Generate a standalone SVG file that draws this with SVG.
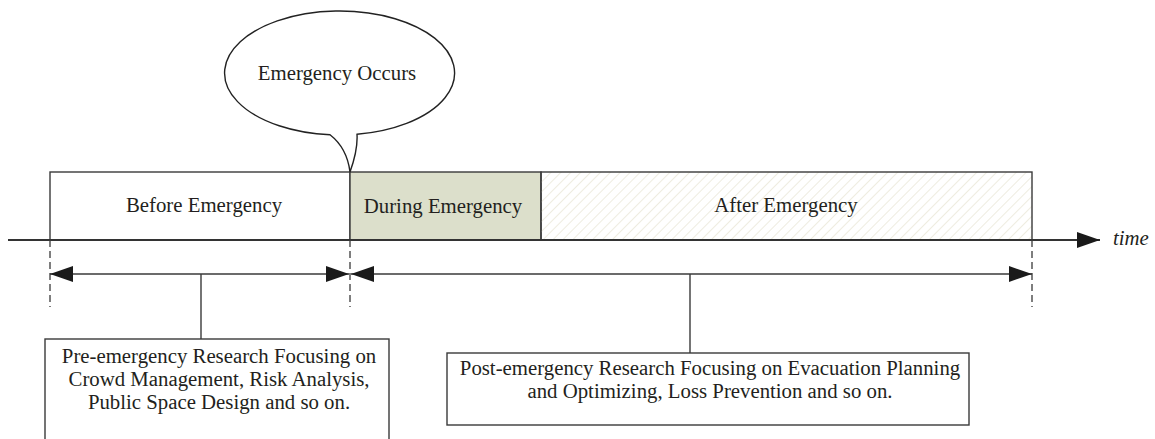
<svg xmlns="http://www.w3.org/2000/svg" width="1155" height="439" viewBox="0 0 1155 439">
  <defs>
    <pattern id="hatch" patternUnits="userSpaceOnUse" width="7" height="7" patternTransform="rotate(45)">
      <line x1="0" y1="0" x2="0" y2="7" stroke="#e2e0cb" stroke-width="1.2"/>
    </pattern>
    <marker id="ah" viewBox="0 0 23 16" refX="23" refY="8" markerWidth="23" markerHeight="16" markerUnits="userSpaceOnUse" orient="auto-start-reverse">
      <path d="M0,0 L23,8 L0,16 Z" fill="#1a1a1a"/>
    </marker>
    <style>
      .t { font-family: "Liberation Serif", "Times New Roman", serif; font-size: 20.8px; fill: #231f20; }
      .box { fill: #ffffff; stroke: #3a3a3a; stroke-width: 1.4; }
      .ln { stroke: #3a3a3a; stroke-width: 1.4; fill: none; }
      .dash { stroke: #3a3a3a; stroke-width: 1.3; stroke-dasharray: 7 4; fill: none; }
    </style>
  </defs>
  <rect width="1155" height="439" fill="#ffffff"/>

  <g id="before-emergency">
    <rect class="box" x="50" y="172" width="300" height="68"/>
    <text class="t" x="204" y="212" text-anchor="middle">Before Emergency</text>
  </g>
  <g id="during-emergency">
    <rect x="350" y="172" width="191" height="68" fill="#dcdfcb" stroke="#3a3a3a" stroke-width="1.4"/>
    <text class="t" x="443" y="213" text-anchor="middle">During Emergency</text>
  </g>
  <g id="after-emergency">
    <rect x="541" y="172" width="491" height="68" fill="url(#hatch)" stroke="#3a3a3a" stroke-width="1.4"/>
    <text class="t" x="786" y="212" text-anchor="middle">After Emergency</text>
  </g>

  <g id="emergency-occurs">
    <path d="M330,134.8 Q347,148 350,172 Q358,150 357,134.3 A115,62 0 1 0 330,134.8 Z" fill="#ffffff" stroke="#222" stroke-width="1.4"/>
    <text class="t" x="337" y="80" text-anchor="middle">Emergency Occurs</text>
  </g>

  <g id="time-label">
    <text class="t" x="1113" y="245" font-style="italic">time</text>
  </g>

  <g id="pre-box">
    <rect class="box" x="45" y="339" width="344" height="120"/>
    <text class="t" x="219" y="363" text-anchor="middle">Pre-emergency Research Focusing on</text>
    <text class="t" x="219" y="386" text-anchor="middle">Crowd Management, Risk Analysis,</text>
    <text class="t" x="219" y="409" text-anchor="middle">Public Space Design and so on.</text>
  </g>

  <g id="post-box">
    <rect class="box" x="447" y="353" width="522" height="72"/>
    <text class="t" x="710" y="375" text-anchor="middle">Post-emergency Research Focusing on Evacuation Planning</text>
    <text class="t" x="710" y="398" text-anchor="middle">and Optimizing, Loss Prevention and so on.</text>
  </g>

  <g id="connectors">
    <line x1="8" y1="240" x2="1100" y2="240" stroke="#333" stroke-width="1.8" marker-end="url(#ah)"/>
    <line class="dash" x1="50" y1="240" x2="50" y2="307"/>
    <line class="dash" x1="350" y1="240" x2="350" y2="307"/>
    <line class="dash" x1="1032" y1="240" x2="1032" y2="307"/>
    <line class="ln" x1="50" y1="274" x2="349" y2="274" marker-start="url(#ah)" marker-end="url(#ah)"/>
    <line class="ln" x1="351" y1="274" x2="1032" y2="274" marker-start="url(#ah)" marker-end="url(#ah)"/>
    <line class="ln" x1="201" y1="274" x2="201" y2="339"/>
    <line class="ln" x1="690" y1="274" x2="690" y2="353"/>
  </g>
</svg>
